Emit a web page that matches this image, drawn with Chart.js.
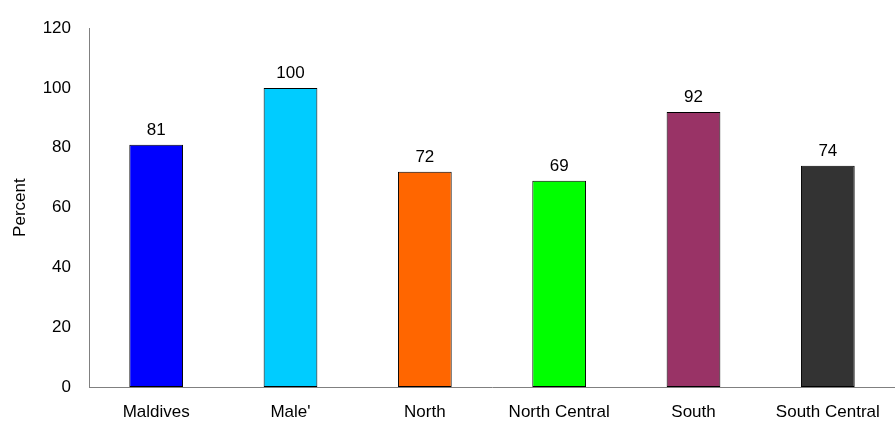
<!DOCTYPE html>
<html>
<head>
<meta charset="utf-8">
<script src="https://cdn.jsdelivr.net/npm/chart.js@4"></script>
<style>
  html, body { margin: 0; padding: 0; background: #fff; }
  #wrap { width: 895px; height: 425px; }
</style>
</head>
<body>
<div id="wrap"><canvas id="chart" width="895" height="425"></canvas></div>
<script>
// ---- data ----
const regions = ["Maldives", "Male'", "North", "North Central", "South", "South Central"];
const percentValues = [81, 100, 72, 69, 92, 74];
const barColors = ["#0000ff", "#00ccff", "#ff6600", "#00ff00", "#993366", "#333333"];
const yTicks = [0, 20, 40, 60, 80, 100, 120];

const FONT = "'Liberation Sans', Arial, sans-serif";

// draws the value above each bar
const valueLabels = {
  id: "valueLabels",
  afterDatasetsDraw(chart) {
    const ctx = chart.ctx;
    const meta = chart.getDatasetMeta(0);
    ctx.save();
    ctx.font = "17px " + FONT;
    ctx.fillStyle = "#000";
    ctx.textAlign = "center";
    ctx.textBaseline = "bottom";
    meta.data.forEach((bar, i) => {
      ctx.fillText(String(percentValues[i]), bar.x, bar.y - 6);
    });
    ctx.restore();
  }
};

new Chart(document.getElementById("chart"), {
  type: "bar",
  data: {
    labels: regions,
    datasets: [{
      data: percentValues,
      backgroundColor: barColors,
      borderColor: "#000",
      borderWidth: 1,
      borderSkipped: false,
      barPercentage: 0.4,
      categoryPercentage: 1,
    }],
  },
  options: {
    responsive: false,
    animation: false,
    layout: { padding: { left: 10, top: 25, right: 0, bottom: 4 } },
    plugins: { legend: { display: false }, tooltip: { enabled: false } },
    scales: {
      x: {
        afterFit: s => { s.height = 34; },
        grid: { display: false, drawTicks: false },
        border: { display: true, color: "#808080", width: 1 },
        ticks: { color: "#000", font: { family: FONT, size: 17 }, padding: 15, maxRotation: 0 },
      },
      y: {
        min: yTicks[0],
        max: yTicks[yTicks.length - 1],
        afterFit: s => { s.width = 79; },
        grid: { display: false, drawTicks: false },
        border: { display: true, color: "#808080", width: 1 },
        ticks: { color: "#000", font: { family: FONT, size: 17 }, padding: 18, stepSize: yTicks[1] - yTicks[0] },
        title: {
          display: true,
          text: "Percent",
          color: "#000",
          font: { family: FONT, size: 17 },
          padding: { top: 0, bottom: 10 },
        },
      },
    },
  },
  plugins: [valueLabels],
});
</script>
</body>
</html>
